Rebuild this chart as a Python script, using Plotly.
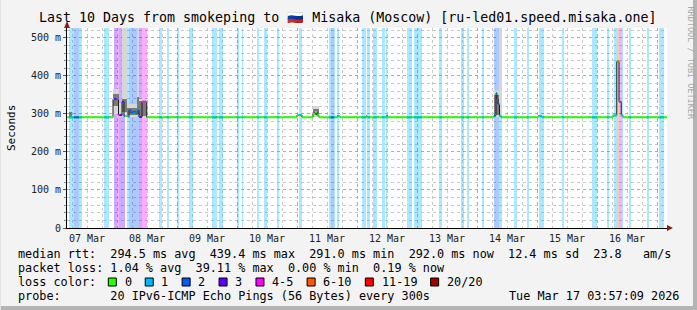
import numpy as np
import pandas as pd
import plotly.graph_objects as go

# ---------------- data ----------------
START = pd.Timestamp("2026-03-07 04:00")
SPAN_H = 240          # 10 days shown
Y_MAX = 526           # ms, top of value axis

# loss bands (hours from START), loss count per 20 pings
band_start_h = [0.8, 2.8, 4.8, 14.8, 18.8, 19.9, 20.9, 23.9, 24.7, 28.9, 30.0,
                36.9, 39.9, 43.9, 48.7, 58.0, 60.9, 67.9, 69.9, 76.1, 78.8, 83.9,
                92.7, 104.7, 105.5, 106.8, 107.9, 117.8, 120.1, 122.5, 126.0, 127.6,
                135.9, 138.8, 148.9, 157.7, 159.9, 166.0, 170.8, 172.8, 178.8, 183.9,
                188.7, 198.0, 210.0, 215.9, 218.8, 220.0, 220.8, 221.8, 224.7, 231.9,
                236.7]
band_end_h = [2.8, 4.8, 6.0, 16.8, 19.9, 20.9, 23.1, 24.7, 28.9, 30.0, 31.9,
              38.0, 40.9, 44.7, 50.3, 60.0, 62.5, 68.9, 70.5, 76.9, 79.9, 84.7,
              94.0, 105.5, 106.8, 107.3, 108.7, 119.6, 121.2, 123.9, 127.1, 128.1,
              137.9, 142.0, 150.0, 158.8, 160.7, 166.8, 172.8, 174.0, 179.9, 184.7,
              190.8, 198.8, 211.9, 216.8, 220.0, 220.8, 221.8, 222.5, 225.7, 232.7,
              238.8]
band_loss = [1, 2, 1, 1, 3, 5, 3, 1, 2, 3, 5,
             1, 1, 1, 1, 1, 1, 1, 1, 1, 1, 1,
             1, 1, 2, 1, 1, 1, 1, 1, 1, 1,
             1, 1, 1, 1, 1, 1, 2, 1, 1, 1,
             1, 1, 1, 1, 1, 10, 5, 1, 1, 1,
             1]

# median rtt (ms) change points, hours from START
med_h = [0.0, 18.4, 20.6, 22.0, 22.8, 24.4, 24.8, 25.6, 26.4, 27.6, 28.4, 28.8,
         30.0, 31.9, 92.0, 94.0, 98.4, 99.2, 100.0, 100.8, 108.0, 109.2,
         170.8, 171.6, 172.0, 172.4, 173.0, 173.6, 188.4, 190.0,
         218.4, 219.9, 220.8, 221.7, 222.4, 240.0]
med_v = [291, 339, 297, 332, 295, 292, 310, 303, 306, 301, 310, 292,
         332, 291, 297, 291, 300, 305, 296, 291, 294, 291,
         296, 354, 340, 326, 295, 291, 294, 291,
         296, 438, 332, 296, 291, 292]

# smoke (ping spread) blocks: hours, low/high ms, shade
smoke_start_h = [0.8, 18.4, 20.6, 22.0, 23.8, 28.0, 28.8, 98.4, 170.8, 172.8, 219.9,
                 0.8, 18.4, 22.0, 23.8, 28.0, 28.8, 98.4, 170.8, 108.0, 119.6, 124.2, 127.7]
smoke_end_h = [2.0, 20.6, 22.0, 23.8, 28.0, 28.8, 31.9, 100.8, 172.8, 174.0, 220.8,
               2.0, 20.6, 23.8, 28.0, 28.8, 31.9, 100.8, 172.8, 108.8, 120.0, 124.6, 128.1]
smoke_low = [291, 300, 292, 300, 292, 300, 290, 291, 292, 300, 330,
             293, 320, 305, 298, 300, 295, 296, 296, 291, 291, 291, 291]
smoke_high = [306, 366, 330, 600, 325, 600, 340, 321, 362, 600, 446,
              304, 352, 340, 315, 345, 335, 312, 350, 297, 297, 295, 297]
smoke_shade = ["light"] * 11 + ["dark"] * 12

loss_labels = ["0", "1", "2", "3", "4-5", "6-10", "11-19", "20/20"]
loss_upper = [0, 1, 2, 3, 5, 10, 19, 20]
loss_colors = ["#26ff00", "#00b8ff", "#0059ff", "#5e00ff", "#ff00ff", "#ff5500", "#ff0000", "#a10000"]

day_labels = ["07 Mar", "08 Mar", "09 Mar", "10 Mar", "11 Mar", "12 Mar", "13 Mar", "14 Mar", "15 Mar", "16 Mar"]
y_ticks = [0, 100, 200, 300, 400, 500]
y_ticktext = ["0", "100 m", "200 m", "300 m", "400 m", "500 m"]

title = "Last 10 Days from smokeping to \U0001F1F7\U0001F1FA Misaka (Moscow) [ru-led01.speed.misaka.one]"
rtt_stats = "294.5 ms avg  439.4 ms max  291.0 ms min  292.0 ms now  12.4 ms sd  23.8   am/s"
loss_stats = "1.04 % avg  39.11 % max  0.00 % min  0.19 % now"
probe_text = "20 IPv6-ICMP Echo Pings (56 Bytes) every 300s"
stamp = "Tue Mar 17 03:57:09 2026"

# ---------------- helpers ----------------
def ts(h):
    return None if h is None else START + pd.Timedelta(hours=h)

def level_of(loss):
    for i, up in enumerate(loss_upper):
        if loss <= up:
            return i
    return len(loss_upper) - 1

def hex_rgba(c, a):
    c = c.lstrip("#")
    return f"rgba({int(c[0:2],16)},{int(c[2:4],16)},{int(c[4:6],16)},{a})"

t_med = np.array(med_h)
v_med = np.array(med_v)

def med_at(h):
    i = int(np.searchsorted(t_med, h, side="right") - 1)
    return float(v_med[max(i, 0)])

def segs(h0, h1):
    pts = [h0] + [t for t in med_h if h0 < t < h1] + [h1]
    xs, ys = [], []
    for a, b in zip(pts[:-1], pts[1:]):
        v = med_at(a)
        xs += [ts(a), ts(b), None]
        ys += [v, v, None]
    return xs, ys

MONO = "DejaVu Sans Mono"
W, H = 697, 310
L, R, T, B = 67, 667, 28, 228

def px(x):
    return (x - L) / (R - L)

def py(y):
    return (B - y) / (B - T)

fig = go.Figure()

# loss bands
for lvl in sorted(set(level_of(l) for l in band_loss)):
    idx = [i for i, l in enumerate(band_loss) if level_of(l) == lvl]
    fig.add_trace(go.Bar(
        x=[ts((band_start_h[i] + band_end_h[i]) / 2) for i in idx],
        width=[(band_end_h[i] - band_start_h[i]) * 3600e3 for i in idx],
        y=[Y_MAX * 1.2] * len(idx), base=0,
        marker=dict(color=hex_rgba(loss_colors[lvl], 0.33), line=dict(width=0)),
        hoverinfo="skip", showlegend=False))

# smoke
for shade, col in [("light", "#d6d6d6"), ("dark", "#7a7a7a")]:
    idx = [i for i, s in enumerate(smoke_shade) if s == shade]
    fig.add_trace(go.Bar(
        x=[ts((smoke_start_h[i] + smoke_end_h[i]) / 2) for i in idx],
        width=[(smoke_end_h[i] - smoke_start_h[i]) * 3600e3 for i in idx],
        y=[smoke_high[i] - smoke_low[i] for i in idx],
        base=[smoke_low[i] for i in idx],
        marker=dict(color=col, line=dict(width=0)),
        hoverinfo="skip", showlegend=False))

# median thin dark line
fig.add_trace(go.Scatter(x=[ts(h) for h in med_h], y=med_v, mode="lines",
                         line=dict(color="#202020", width=1, shape="hv"),
                         hoverinfo="skip", showlegend=False))

# median colored by loss
gx, gy = segs(0, SPAN_H)
fig.add_trace(go.Scatter(x=gx, y=gy, mode="lines", line=dict(color=loss_colors[0], width=2),
                         hoverinfo="skip", showlegend=False))
for lvl in sorted(set(level_of(l) for l in band_loss)):
    xs, ys = [], []
    for i, l in enumerate(band_loss):
        if level_of(l) == lvl:
            a, b = segs(band_start_h[i], band_end_h[i])
            xs += a
            ys += b
    fig.add_trace(go.Scatter(x=xs, y=ys, mode="lines", line=dict(color=loss_colors[lvl], width=2),
                             hoverinfo="skip", showlegend=False))

midnights = [START.normalize() + pd.Timedelta(days=d) for d in range(1, 11)]
noons = [START.normalize() + pd.Timedelta(days=d, hours=12) for d in range(0, 10)]

fig.update_layout(
    width=W, height=H, autosize=False,
    margin=dict(l=L, r=W - R, t=T, b=H - B, pad=0),
    paper_bgcolor="#f3f3f3", plot_bgcolor="#ffffff",
    barmode="overlay", bargap=0,
    font=dict(family=MONO, size=10, color="#000"),
    xaxis=dict(type="date", range=[ts(0), ts(SPAN_H)], tickvals=midnights,
               showticklabels=False, ticks="", showgrid=True,
               gridcolor="rgba(255,80,80,0.45)", griddash="dot", gridwidth=1,
               minor=dict(dtick=6 * 3600e3, tick0=START.normalize(), showgrid=True,
                          gridcolor="#c8c8c8", griddash="dot", ticks=""),
               showline=True, linecolor="#000", linewidth=1, zeroline=False, fixedrange=True),
    yaxis=dict(range=[0, Y_MAX], tickvals=y_ticks, ticktext=y_ticktext,
               ticks="outside", ticklen=3, tickcolor="#b03030",
               tickfont=dict(family=MONO, size=10, color="#222"),
               showgrid=True, gridcolor="rgba(255,80,80,0.45)", griddash="dot",
               minor=dict(dtick=20, showgrid=True, gridcolor="#c8c8c8", griddash="dot",
                          ticks="outside", ticklen=2, tickcolor="#888"),
               showline=True, linecolor="#000", linewidth=1, zeroline=False, fixedrange=True),
)

ann = []
for d, lab in zip(noons, day_labels):
    ann.append(dict(x=d, xref="x", y=py(238), yref="paper", text=lab, showarrow=False,
                    font=dict(family=MONO, size=10, color="#222"), xanchor="center", yanchor="middle"))

ann.append(dict(x=px(347), y=py(18), xref="paper", yref="paper", text=title, showarrow=False,
                font=dict(family=MONO, size=13.3, color="#000"), xanchor="center", yanchor="middle"))
ann.append(dict(x=px(11), y=py(128), xref="paper", yref="paper", text="Seconds", showarrow=False,
                textangle=-90, font=dict(family=MONO, size=11, color="#000"),
                xanchor="center", yanchor="middle"))
ann.append(dict(x=px(690), y=py(4), xref="paper", yref="paper", text="RRDTOOL / TOBI OETIKER",
                showarrow=False, textangle=90, font=dict(family=MONO, size=8.5, color="#a8a8a8"),
                xanchor="center", yanchor="top"))

NB = "\u00a0"
CW = 7.1
FS = 11.8
def line_text(s):
    return s.replace(" ", NB)

rows = [(254, "median rtt:  " + rtt_stats),
        (268, "packet loss: " + loss_stats),
        (282, "loss color:"),
        (296, "probe:       " + probe_text)]
for yy, s in rows:
    ann.append(dict(x=px(16), y=py(yy), xref="paper", yref="paper", text=line_text(s),
                    showarrow=False, font=dict(family=MONO, size=FS, color="#000"),
                    xanchor="left", yanchor="middle"))
ann.append(dict(x=px(681), y=py(296), xref="paper", yref="paper", text=line_text(stamp),
                showarrow=False, font=dict(family=MONO, size=FS, color="#000"),
                xanchor="right", yanchor="middle"))

shapes = []
col = 13.0
for lab, c in zip(loss_labels, loss_colors):
    bx = 16 + col * CW
    shapes.append(dict(type="rect", xref="paper", yref="paper",
                       x0=px(bx), x1=px(bx + 8), y0=py(282 + 4), y1=py(282 - 4),
                       fillcolor=c, line=dict(color="#000", width=1)))
    ann.append(dict(x=px(16 + (col + 2) * CW), y=py(282), xref="paper", yref="paper", text=lab,
                    showarrow=False, font=dict(family=MONO, size=FS, color="#000"),
                    xanchor="left", yanchor="middle"))
    col += len(lab) + 4.2

# axis arrows (triangles)
def tri(pts):
    return "M " + " L ".join(f"{px(a)},{py(b)}" for a, b in pts) + " Z"

shapes += [
    dict(type="path", xref="paper", yref="paper", path=tri([(667, 225), (673, 228), (667, 231)]),
         fillcolor="#8b1a1a", line=dict(width=0)),
    dict(type="path", xref="paper", yref="paper", path=tri([(64, 28), (67, 21), (70, 28)]),
         fillcolor="#8b1a1a", line=dict(width=0)),
]

# frame
shapes += [
    dict(type="line", xref="paper", yref="paper", x0=px(695), x1=px(695), y0=py(310), y1=py(0),
         line=dict(color="#b4b4b4", width=4)),
    dict(type="line", xref="paper", yref="paper", x0=px(0), x1=px(697), y0=py(308), y1=py(308),
         line=dict(color="#b4b4b4", width=4)),
    dict(type="line", xref="paper", yref="paper", x0=px(0.5), x1=px(0.5), y0=py(310), y1=py(0),
         line=dict(color="#e2e2e2", width=1)),
]

fig.update_layout(annotations=ann, shapes=shapes)
fig.write_html("out.html")
